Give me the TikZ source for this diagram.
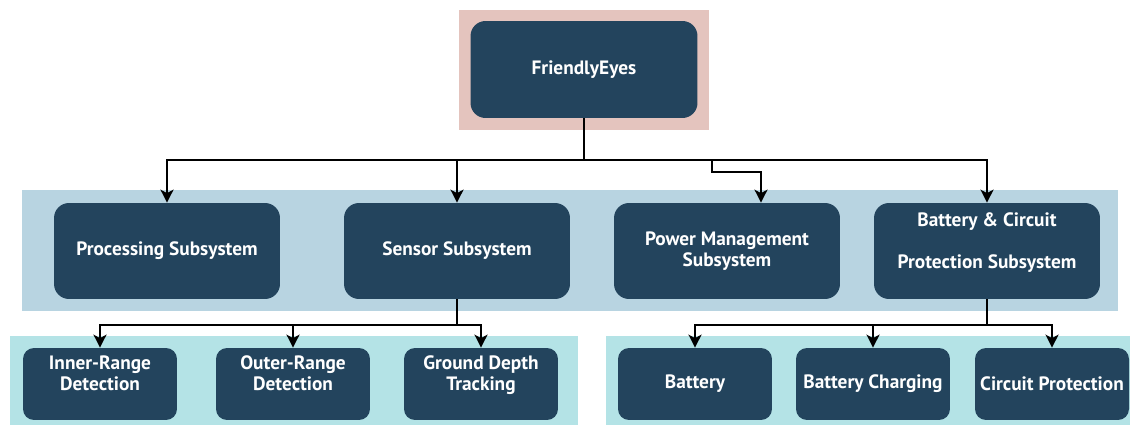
\documentclass[tikz,border=0pt]{standalone}
\usepackage{fontspec}
\setmainfont{PT Sans}
\usepackage{tikz}
\usetikzlibrary{
  arrows.meta,
  positioning
}
\definecolor{navy}{HTML}{23445D}
\definecolor{rootband}{HTML}{E4C4BE}
\definecolor{midband}{HTML}{B8D4E1}
\definecolor{lowband}{HTML}{B4E3E6}
\tikzset{
  block/.style = {
    rectangle,
    rounded corners=0.3cm,
    fill=navy,
    text=white,
    font=\bfseries\fontsize{11}{11.9}\selectfont,
    align=center,
    inner sep=0pt,
    minimum width=4.52cm,
    minimum height=1.92cm
  },
  leaf/.style = {
    block,
    rounded corners=0.22cm,
    minimum width=3.08cm,
    minimum height=1.44cm
  },
  link/.style = {
    -{Stealth[length=0.26cm, width=0.26cm, inset=0.07cm]},
    line width=1.1pt
  }
}

\begin{document}
\begin{tikzpicture}[
    x=0.02cm,
    y=-0.02cm,
    stem/.style={line width=1.1pt}
]
    \useasboundingbox (0,0) rectangle (1132,425);

    % Background bands
    \fill[rootband] (459,10) rectangle (709,130);
    \fill[midband] (22,190) rectangle (1118,311);
    \fill[lowband] (10,336) rectangle (578,425);
    \fill[lowband] (606,336) rectangle (1130,425);

    % Top level
    \node[block, minimum width=4.54cm, minimum height=1.94cm] (eyes) at (584,69.5) {FriendlyEyes};

    % Subsystems
    \node[block] (proc) at (167,251) {Processing Subsystem};
    \node[block] (sensor) at (457,251) {Sensor Subsystem};
    \node[block] (power) at (727,251) {Power Management\\Subsystem};
    \node[block] (battprot) at (987,251) {Battery \& Circuit\\~\\Protection Subsystem\\~};

    % Sensor parts
    \node[leaf] (inner) at (100,384) {Inner-Range\\Detection\\~};
    \node[leaf] (outer) at (293,384) {Outer-Range\\Detection\\~};
    \node[leaf] (ground) at (481,384) {Ground Depth\\Tracking\\~};

    % Battery parts
    \node[leaf] (battery) at (695,384) {Battery};
    \node[leaf] (charging) at (873,384) {Battery Charging};
    \node[leaf] (circuit) at (1052,384) {Circuit Protection};

    % Junction points
    \coordinate (topbus) at (584,160);
    \coordinate (jog) at (712,160);
    \coordinate (sensbus) at (457,325);
    \coordinate (battbus) at (987,325);

    % Top level to subsystems
    \draw[stem] (eyes.south) -- (topbus);
    \foreach \sub in {proc, sensor, battprot} {
        \draw[link] (topbus) -| (\sub.north);
    }
    \draw[link] (topbus) -- (jog) -- ++(0,12) -| ([xshift=0.68cm]power.north);

    % Subsystems to parts
    \draw[stem] (sensor.south) -- (sensbus);
    \foreach \part in {inner, outer, ground} {
        \draw[link] (sensbus) -| (\part.north);
    }
    \draw[stem] (battprot.south) -- (battbus);
    \foreach \part in {battery, charging, circuit} {
        \draw[link] (battbus) -| (\part.north);
    }

\end{tikzpicture}
\end{document}
